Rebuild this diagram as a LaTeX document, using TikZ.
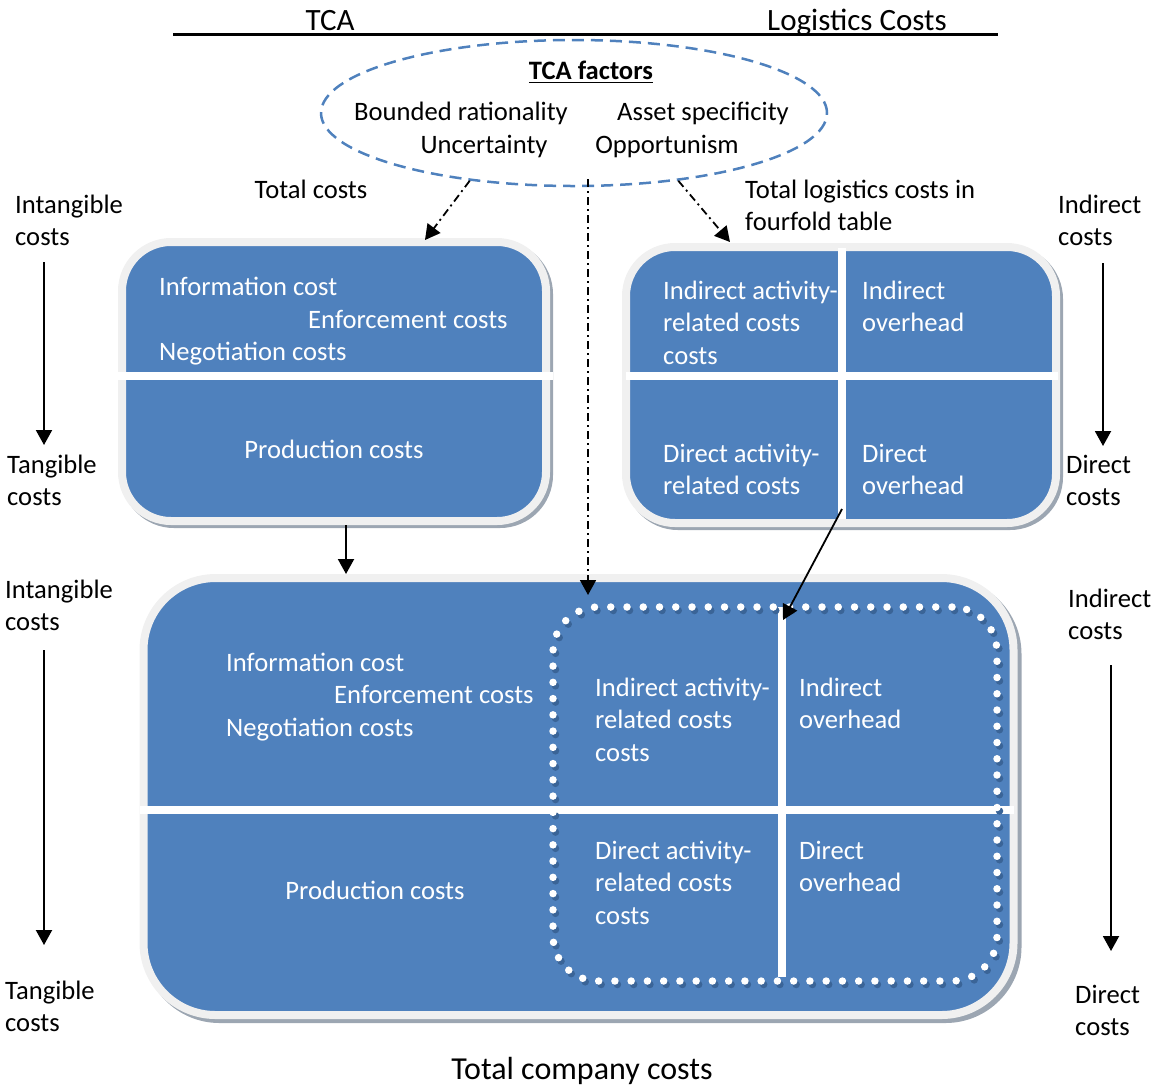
\documentclass[tikz,border=0pt]{standalone}
\usepackage{fontspec}
\setmainfont{Carlito}
\usetikzlibrary{arrows.meta,shapes.geometric}

\definecolor{boxblue}{HTML}{4F81BD}
\definecolor{rimgray}{HTML}{F0F0F0}
\definecolor{shadegray}{HTML}{9CA6B2}
\definecolor{dotshade}{HTML}{3A6497}

\begin{document}
\begin{tikzpicture}[x=1pt,y=-1pt,
  txt/.style={font=\fontsize{26.6}{32.5}\selectfont, inner sep=0pt},
  wtxt/.style={txt, text=white},
  lbl/.style={anchor=base west},
  ml/.style={align=left, anchor=north west, yshift=22.75pt},
  panel/.style={draw=rimgray, fill=boxblue, line width=8pt, rounded corners=#1, inner sep=0pt},
  panelshade/.style={draw=shadegray, fill=shadegray, line width=8pt, rounded corners=#1, inner sep=0pt},
  dotframe/.style={draw=#1, line width=7.5pt, line cap=round, dash pattern=on 0pt off 16.25pt,
                   rounded corners=45pt, inner sep=0pt, minimum width=444pt, minimum height=374pt},
  divider/.style={fill=white},
  arr/.style={-{Triangle[width=16pt,length=15pt]}, line width=2pt},
  dda/.style={arr, line width=1.8pt, dash pattern=on 8pt off 4pt on 2pt off 4pt},
]
\useasboundingbox (0,0) rectangle (1155,1088);

% headings
\node[font=\fontsize{31}{37}\selectfont, inner sep=0pt, anchor=base] (hTCA) at (330,30) {TCA};
\node[font=\fontsize{31}{37}\selectfont, inner sep=0pt, anchor=base] (hLog) at (857,30) {Logistics Costs};
\draw[line width=2.5pt] (173,34.5) -- (998,34.5);

% TCA factors
\node[ellipse, draw=boxblue, line width=2.5pt, dash pattern=on 12pt off 7pt,
      minimum width=506pt, minimum height=146pt, inner sep=0pt] (fac) at (574,113) {};
\node[txt, font=\fontsize{26.6}{32.5}\selectfont\bfseries, anchor=base] (facT) at (591,79) {TCA factors};
\draw[line width=1.8pt] ([yshift=-3.5pt]facT.base west) -- ([yshift=-3.5pt]facT.base east);
\node[txt, anchor=base] (bR) at (461,120) {Bounded rationality};
\node[txt, anchor=base] (aS) at (703,120) {Asset specificity};
\node[txt, anchor=base] (un) at (484,153) {Uncertainty};
\node[txt, anchor=base] (op) at (667,153) {Opportunism};

\node[txt, anchor=base] (totL) at (311,198) {Total costs};
\node[txt, ml] (logL) at (745,198) {\strut Total logistics costs in\\fourfold table};

% side scales, top row
\node[txt, ml] (s1a) at (15,213) {\strut Intangible\\costs};
\node[txt, ml] (s1b) at (7,473) {\strut Tangible\\costs};
\node[txt, ml] (s2a) at (1058,213) {\strut Indirect\\costs};
\node[txt, ml] (s2b) at (1066,473) {\strut Direct\\costs};
\coordinate (s1s) at (44,262); \coordinate (s1e) at (44,445);
\coordinate (s2s) at (1103,263); \coordinate (s2e) at (1103,446);
\draw[arr] (s1s) -- (s1e);
\draw[arr] (s2s) -- (s2e);

% side scales, bottom row
\node[txt, ml] (s3a) at (5,598) {\strut Intangible\\costs};
\node[txt, ml] (s3b) at (5,999) {\strut Tangible\\costs};
\node[txt, ml] (s4a) at (1068,607) {\strut Indirect\\costs};
\node[txt, ml] (s4b) at (1075,1003) {\strut Direct\\costs};
\coordinate (s3s) at (44,650); \coordinate (s3e) at (44,945);
\coordinate (s4s) at (1111,665); \coordinate (s4e) at (1111,951);
\draw[arr] (s3s) -- (s3e);
\draw[arr] (s4s) -- (s4e);

% TCA panel
\node[panelshade=49pt, minimum width=424pt, minimum height=279pt] at (337,384.5) {};
\node[panel=49pt, minimum width=424pt, minimum height=279pt] (tca) at (334,381.5) {};
\fill[divider] (118,372) rectangle (553,380);
\node[wtxt, lbl] (t1) at (159,295) {Information cost};
\node[wtxt, lbl] (t2) at (308,328) {Enforcement costs};
\node[wtxt, lbl] (t3) at (159,360) {Negotiation costs};
\node[wtxt, anchor=base] (t4) at (334,458) {Production costs};

% logistics fourfold panel
\node[panelshade=49pt, minimum width=430pt, minimum height=276pt] at (844,388) {};
\node[panel=49pt, minimum width=430pt, minimum height=276pt] (logt) at (841,385) {};
\fill[divider] (838,248) rectangle (846,519);
\fill[divider] (626,372) rectangle (1058,380);
\node[wtxt, ml] (l1) at (663,299) {\strut Indirect activity-\\related costs\\costs};
\node[wtxt, ml] (l2) at (862,299) {\strut Indirect\\overhead};
\node[wtxt, ml] (l3) at (663,462) {\strut Direct activity-\\related costs};
\node[wtxt, ml] (l4) at (862,462) {\strut Direct\\overhead};

% total company costs panel
\node[panelshade=72pt, minimum width=870pt, minimum height=437pt] at (582.5,800.5) {};
\node[panel=72pt, minimum width=870pt, minimum height=437pt] (tot) at (578.5,796.5) {};
\fill[divider] (140,806) rectangle (1014,814);
\fill[divider] (778,607) rectangle (786,977);
\node[dotframe=dotshade] at (777.5,797.5) {};
\node[dotframe=white] (logb) at (775,794) {};
\node[wtxt, lbl] (b1) at (226,671) {Information cost};
\node[wtxt, lbl] (b2) at (334,703) {Enforcement costs};
\node[wtxt, lbl] (b3) at (226,736) {Negotiation costs};
\node[wtxt, anchor=base] (b4) at (375,899) {Production costs};
\node[wtxt, ml] (b5) at (595,696) {\strut Indirect activity-\\related costs\\costs};
\node[wtxt, ml] (b6) at (799,696) {\strut Indirect\\overhead};
\node[wtxt, ml] (b7) at (595,859) {\strut Direct activity-\\related costs\\costs};
\node[wtxt, ml] (b8) at (799,859) {\strut Direct\\overhead};

\node[font=\fontsize{32}{38}\selectfont, inner sep=0pt, anchor=base] (cap) at (582,1079) {Total company costs};

% connectors
\coordinate (tcaIn) at (425,240);
\coordinate (logIn) at (730,242);
\coordinate (facDrop) at (588,179);
\coordinate (logbIn) at (588,595);
\coordinate (logtOut) at (842,509);
\coordinate (totIn) at (783,620);
\draw[dda] (fac.213) -- (tcaIn);
\draw[dda] (fac.-33) -- (logIn);
\draw[dda] (facDrop) -- (logbIn);
\draw[arr] ([xshift=12pt]tca.south) -- ([xshift=12pt]tca.south |- tot.north);
\draw[arr, line width=1.8pt] (logtOut) -- (totIn);
\end{tikzpicture}
\end{document}
